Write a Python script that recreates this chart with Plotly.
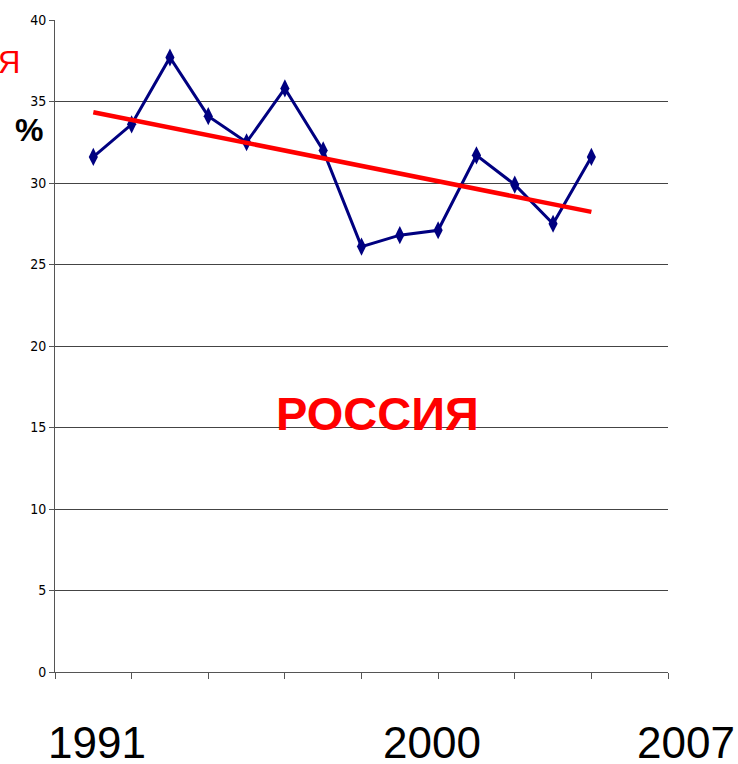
import numpy as np
import plotly.graph_objects as go

# Annual share, %, 1991-2004
years = list(range(1991, 2005))
values = [31.6, 33.6, 37.7, 34.1, 32.5, 35.8, 32.0, 26.1, 26.8, 27.1, 31.7, 29.9, 27.5, 31.6]

y_ticks = [0, 5, 10, 15, 20, 25, 30, 35, 40]
year_labels = ["1991", "2000", "2007"]

# Linear trend through the series
slope, intercept = np.polyfit(years, values, 1)
trend = [slope * yr + intercept for yr in years]

fig = go.Figure()

fig.add_trace(go.Scatter(
    x=years, y=values, mode="lines+markers",
    line=dict(color="#000080", width=3),
    marker=dict(symbol="diamond-tall", size=13, color="#000080"),
    showlegend=False, hoverinfo="skip",
))

fig.add_trace(go.Scatter(
    x=years, y=trend, mode="lines",
    line=dict(color="#ff0000", width=4.5),
    showlegend=False, hoverinfo="skip",
))

narrow = "Liberation Sans Narrow, Arial Narrow, DejaVu Sans Condensed, sans-serif"

fig.update_xaxes(
    range=[1990, 2006], tick0=1990, dtick=2,
    showticklabels=False, ticks="outside", ticklen=6, tickcolor="#555",
    showline=True, linecolor="#555", linewidth=1,
    showgrid=False, zeroline=False,
)
fig.update_yaxes(
    range=[0, 40], tickvals=y_ticks,
    ticks="outside", ticklen=5, tickcolor="#555",
    tickfont=dict(family=narrow, size=14, color="#000"),
    showline=True, linecolor="#555", linewidth=1,
    showgrid=True, gridcolor="#444", gridwidth=1, zeroline=False,
)

annotations = [
    dict(text="РОССИЯ", x=377, y=413, font=dict(size=47, color="#ff0000",
         family="Liberation Sans, Arial, sans-serif", weight="bold")),
    dict(text="%", x=29, y=128, font=dict(size=32, color="#000",
         family="Liberation Sans, Arial, sans-serif", weight="bold")),
    dict(text="Я", x=9, y=61, font=dict(size=31, color="#ff0000",
         family="Liberation Sans, Arial, sans-serif")),
]
label_x = [97, 432, 686]
for lbl, px in zip(year_labels, label_x):
    annotations.append(dict(text=lbl, x=px, y=743,
                            font=dict(size=44, color="#000",
                                      family="Liberation Sans, Arial, sans-serif")))

W, H = 738, 764
l, r, t, b = 55, 70, 18, 92
for a in annotations:
    a.update(xref="paper", yref="paper", showarrow=False,
             xanchor="center", yanchor="middle")
    # pixel position -> paper coordinates of the plot area
    a["x"] = (a["x"] - l) / (W - l - r)
    a["y"] = 1 - (a["y"] - t) / (H - t - b)

fig.update_layout(
    width=W, height=H,
    margin=dict(l=l, r=r, t=t, b=b),
    paper_bgcolor="white", plot_bgcolor="white",
    annotations=annotations,
)

fig.write_html("out.html")
